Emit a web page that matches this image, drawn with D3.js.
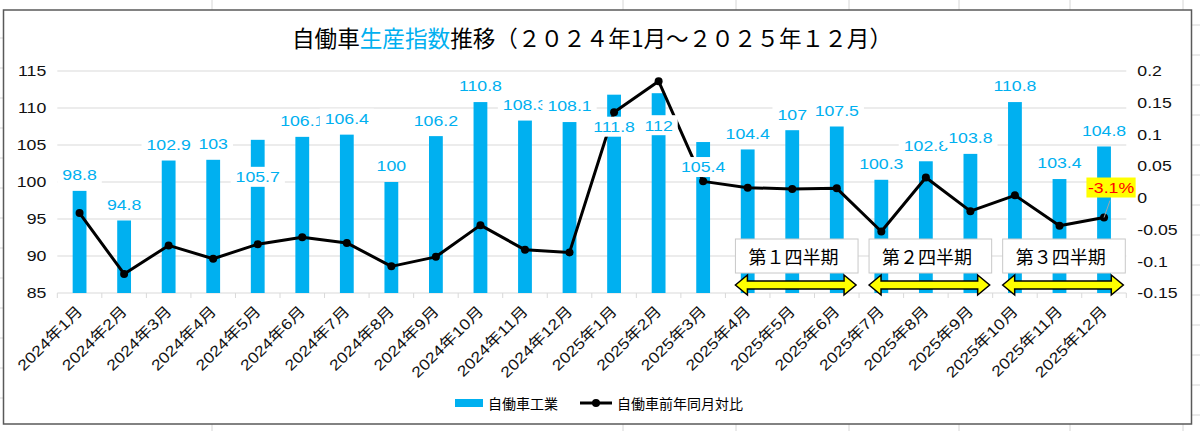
<!DOCTYPE html>
<html>
<head>
<meta charset="utf-8">
<title>自働車生産指数推移</title>
<script src="https://d3js.org/d3.v7.min.js"></script>
<style>
  body {margin: 0; background: #fff;}
  svg {display: block;}
  .num {font-family: "Liberation Sans", Arial, "Noto Sans CJK JP", sans-serif;}
  .jp {font-family: "Noto Sans CJK JP", sans-serif;}
</style>
</head>
<body>
<script>
// categories
const months = ["2024年1月","2024年2月","2024年3月","2024年4月","2024年5月","2024年6月",
                "2024年7月","2024年8月","2024年9月","2024年10月","2024年11月","2024年12月",
                "2025年1月","2025年2月","2025年3月","2025年4月","2025年5月","2025年6月",
                "2025年7月","2025年8月","2025年9月","2025年10月","2025年11月","2025年12月"];

// 自働車工業 (bar heights as drawn) and the printed labels
const barValues = [98.8, 94.8, 102.9, 103, 105.7, 106.1, 106.4, 100, 106.2, 110.8, 108.3, 108.1,
                   111.8, 112, 105.4, 104.4, 107, 107.5, 100.3, 102.8, 103.8, 110.8, 100.4, 104.8];
const barLabels = ["98.8","94.8","102.9","103","105.7","106.1","106.4","100","106.2","110.8","108.3","108.1",
                   "111.8","112","105.4","104.4","107","107.5","100.3","102.8","103.8","110.8","103.4","104.8"];

// 自働車前年同月対比 (right axis)
const yoy = [-0.024, -0.120, -0.075, -0.096, -0.073, -0.062, -0.071, -0.108, -0.093, -0.043, -0.082, -0.086,
             0.135, 0.184, 0.026, 0.016, 0.014, 0.015, -0.053, 0.032, -0.021, 0.004, -0.044, -0.031];

// axis ticks
const leftTicks = [85, 90, 95, 100, 105, 110, 115];
const rightTicks = [-0.15, -0.1, -0.05, 0, 0.05, 0.1, 0.15, 0.2];

// quarter annotations
const quarterLabels = ["第１四半期", "第２四半期", "第３四半期"];
const quarterStart = ["2025年4月", "2025年7月", "2025年10月"];
const quarterEnd = ["2025年6月", "2025年9月", "2025年12月"];

const width = 1200, height = 431;
const blue = "#00b0f0";
const stretch = 1.18;   // numbers in the original render wide

const svg = d3.select("body").append("svg")
    .attr("width", width)
    .attr("height", height);

// spreadsheet cell lines showing round the chart object
const sheet = svg.append("g").attr("stroke", "#d6d6d6").attr("stroke-width", 1);
[212, 623, 736, 849, 959, 1070, 1183].forEach(function(cx) {
    sheet.append("line").attr("x1", cx).attr("x2", cx).attr("y1", 0).attr("y2", 10);
    sheet.append("line").attr("x1", cx).attr("x2", cx).attr("y1", 424).attr("y2", 431);
});
d3.range(38, 424, 30).forEach(function(cy) {
    sheet.append("line").attr("x1", 0).attr("x2", 3).attr("y1", cy).attr("y2", cy);
});
d3.range(25, 424, 30).forEach(function(cy) {
    sheet.append("line").attr("x1", 1192).attr("x2", 1200).attr("y1", cy).attr("y2", cy);
});

// chart frame
svg.append("rect")
    .attr("x", 3.5).attr("y", 10)
    .attr("width", 1188).attr("height", 414)
    .attr("fill", "#fff")
    .attr("stroke", "#595959")
    .attr("stroke-width", 1.5);

// scales
const x = d3.scaleBand().domain(months).range([57.3, 1126.3]).paddingInner(0.69).paddingOuter(0.345);
const yL = d3.scaleLinear().domain([85, 115]).range([293, 71]);
const yR = d3.scaleLinear().domain([-0.15, 0.2]).range([293, 71]);
const bw = x.bandwidth();
const step = x.step();
const cx = function(m) { return x(m) + bw / 2; };

// title
const title = svg.append("text")
    .attr("class", "jp")
    .attr("x", 592)
    .attr("y", 37)
    .attr("text-anchor", "middle")
    .attr("dominant-baseline", "central")
    .style("font-size", "22.6px")
    .attr("fill", "#000");
title.append("tspan").text("自働車");
title.append("tspan").attr("fill", blue).text("生産指数");
title.append("tspan").text("推移（２０２４年1月～２０２５年１２月）");

// gridlines
svg.append("g").selectAll("line")
    .data(leftTicks)
    .join("line")
    .attr("x1", 57.3).attr("x2", 1126.3)
    .attr("y1", d => yL(d)).attr("y2", d => yL(d))
    .attr("stroke", "#d9d9d9")
    .attr("stroke-width", 1);

// category boundary ticks on the bottom
svg.append("g").selectAll("line")
    .data(months.concat(["end"]))
    .join("line")
    .attr("x1", (d, i) => 57.3 + i * step).attr("x2", (d, i) => 57.3 + i * step)
    .attr("y1", 293).attr("y2", 298)
    .attr("stroke", "#d9d9d9");

// stretch numeric tick labels horizontally
function widen(sel) {
    sel.each(function() {
        const t = d3.select(this);
        const tx = +t.attr("x") || 0;
        t.attr("x", 0).attr("transform", "translate(" + tx + ",0) scale(" + stretch + ",1)");
    });
}

// left axis
const gL = svg.append("g")
    .attr("class", "num")
    .attr("transform", "translate(57.3,0)")
    .call(d3.axisLeft(yL).tickValues(leftTicks).tickSize(0).tickPadding(11));
gL.select(".domain").remove();
gL.selectAll(".tick text").style("font-size", "15px").attr("fill", "#111").attr("font-family", null);
widen(gL.selectAll(".tick text"));

// right axis
const gR = svg.append("g")
    .attr("class", "num")
    .attr("transform", "translate(1126.3,0)")
    .call(d3.axisRight(yR).tickValues(rightTicks).tickSize(0).tickPadding(11).tickFormat(d => String(d)));
gR.select(".domain").remove();
gR.selectAll(".tick text").style("font-size", "15px").attr("fill", "#111").attr("font-family", null);
widen(gR.selectAll(".tick text"));

// bottom axis labels
const gB = svg.append("g")
    .attr("class", "num")
    .attr("transform", "translate(0,293)")
    .call(d3.axisBottom(x).tickSize(0));
gB.select(".domain").remove();
gB.selectAll(".tick text")
    .attr("font-family", null)
    .style("font-size", "15px")
    .attr("fill", "#111")
    .attr("y", 0).attr("dy", 0)
    .attr("text-anchor", "end")
    .attr("transform", "translate(4,19) rotate(-45) scale(" + stretch + ",1)");

// bars
svg.append("g").selectAll("rect")
    .data(barValues)
    .join("rect")
    .attr("x", (d, i) => x(months[i]))
    .attr("width", bw)
    .attr("y", d => yL(d))
    .attr("height", d => yL(85) - yL(d))
    .attr("fill", blue);

// line
const line = d3.line()
    .x((d, i) => cx(months[i]))
    .y(d => yR(d));
svg.append("path")
    .datum(yoy)
    .attr("d", line)
    .attr("fill", "none")
    .attr("stroke", "#000")
    .attr("stroke-width", 3)
    .attr("stroke-linejoin", "round");
svg.append("g").selectAll("circle")
    .data(yoy)
    .join("circle")
    .attr("cx", (d, i) => cx(months[i]))
    .attr("cy", d => yR(d))
    .attr("r", 4)
    .attr("fill", "#000");

// bar data labels (white boxed, some moved by hand in the original)
const labelShift = {4: 53, 12: 48, 13: 48, 14: 41};
const labels = svg.append("g").attr("class", "num");
barValues.forEach(function(v, i) {
    const g = labels.append("g")
        .attr("transform", "translate(" + cx(months[i]) + "," + (yL(v) - 16 + (labelShift[i] || 0)) + ")");
    const bg = g.append("rect").attr("fill", "#fff");
    const t = g.append("text")
        .attr("text-anchor", "middle")
        .attr("dy", "0.36em")
        .attr("transform", "scale(" + stretch + ",1)")
        .style("font-size", "15px")
        .attr("fill", blue)
        .text(barLabels[i]);
    const w = t.node().getComputedTextLength() * stretch + 10;
    bg.attr("x", -w / 2).attr("y", -10).attr("width", w).attr("height", 20);
});

// highlighted last YoY value
const last = yoy.length - 1;
const lx = cx(months[last]), ly = yR(yoy[last]);
svg.append("line")
    .attr("x1", lx + 6).attr("y1", ly - 17)
    .attr("x2", lx).attr("y2", ly)
    .attr("stroke", "#a6a6a6").attr("stroke-width", 1);
const hl = svg.append("g").attr("class", "num")
    .attr("transform", "translate(" + (lx + 7) + "," + (ly - 30) + ")");
const hlBg = hl.append("rect").attr("fill", "#ffff00");
const hlText = hl.append("text")
    .attr("text-anchor", "middle")
    .attr("dy", "0.36em")
    .attr("transform", "scale(" + stretch + ",1)")
    .style("font-size", "15px")
    .attr("fill", "#ff0000")
    .text((yoy[last] * 100).toFixed(1) + "%");
const hw = hlText.node().getComputedTextLength() * stretch + 3;
hlBg.attr("x", -hw / 2).attr("y", -10).attr("width", hw).attr("height", 20);

// quarter boxes and arrows
quarterLabels.forEach(function(q, i) {
    const b0 = cx(quarterStart[i]) - step / 2;
    const b1 = cx(quarterEnd[i]) + step / 2;

    svg.append("rect")
        .attr("x", b0 + 10).attr("y", 239)
        .attr("width", b1 - 1 - (b0 + 10)).attr("height", 34)
        .attr("fill", "#fff")
        .attr("stroke", "#c8c8c8");
    svg.append("text")
        .attr("class", "jp")
        .attr("x", b0 + 23).attr("y", 256)
        .attr("dominant-baseline", "central")
        .style("font-size", "18px")
        .attr("fill", "#000")
        .text(q);

    const a0 = b0 + 10, a1 = b1 - 3, ay = 285;
    const p = d3.path();
    p.moveTo(a0, ay);
    p.lineTo(a0 + 12, ay - 10);
    p.lineTo(a0 + 12, ay - 4);
    p.lineTo(a1 - 12, ay - 4);
    p.lineTo(a1 - 12, ay - 10);
    p.lineTo(a1, ay);
    p.lineTo(a1 - 12, ay + 10);
    p.lineTo(a1 - 12, ay + 4);
    p.lineTo(a0 + 12, ay + 4);
    p.lineTo(a0 + 12, ay + 10);
    p.closePath();
    svg.append("path")
        .attr("d", p.toString())
        .attr("fill", "#ffff00")
        .attr("stroke", "#000")
        .attr("stroke-width", 1.5);
});

// legend
const legend = svg.append("g").attr("class", "jp").style("font-size", "14px");
legend.append("rect").attr("x", 455).attr("y", 399).attr("width", 28).attr("height", 8).attr("fill", blue);
legend.append("text").attr("x", 488).attr("y", 403).attr("dominant-baseline", "central").text("自働車工業");
legend.append("line").attr("x1", 580).attr("x2", 612).attr("y1", 403).attr("y2", 403)
    .attr("stroke", "#000").attr("stroke-width", 3);
legend.append("circle").attr("cx", 596).attr("cy", 403).attr("r", 4).attr("fill", "#000");
legend.append("text").attr("x", 617).attr("y", 403).attr("dominant-baseline", "central").text("自働車前年同月対比");
</script>
</body>
</html>
